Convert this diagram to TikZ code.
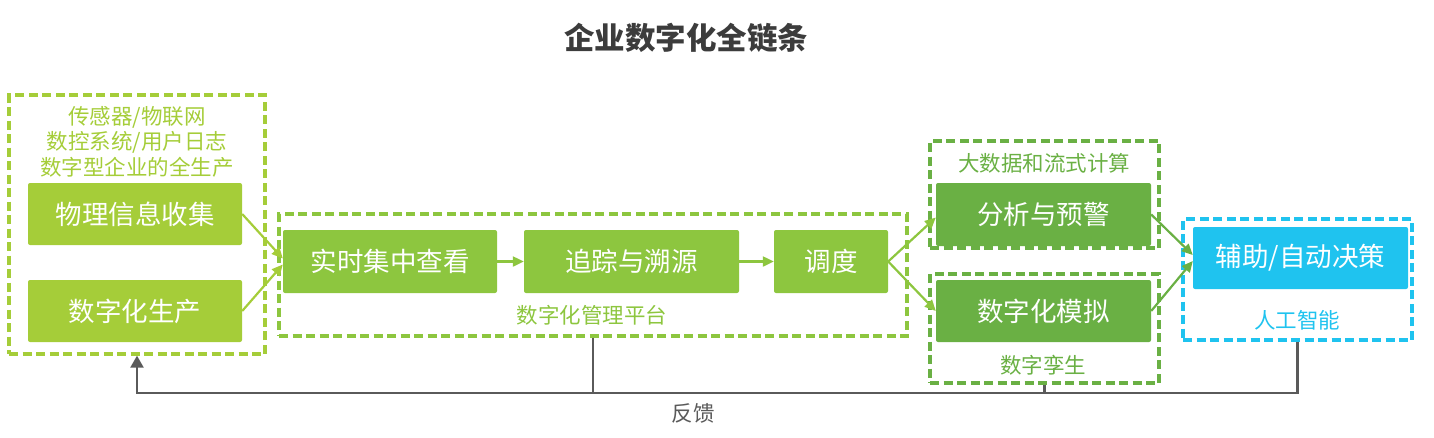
\documentclass[tikz,border=0pt]{standalone}
\usepackage{fontspec}
\setmainfont{Noto Sans CJK SC}
\usetikzlibrary{arrows.meta,fit,calc}
\definecolor{lime}{HTML}{A5CD39}
\definecolor{midg}{HTML}{8DC63F}
\definecolor{darkg}{HTML}{6AB044}
\definecolor{aiblue}{HTML}{1FC3EF}
\definecolor{fbgray}{HTML}{5A5A5A}
\definecolor{titlegray}{HTML}{3C3C3C}
\tikzset{
  box/.style={fill=#1, rounded corners=2pt, inner sep=0pt},
  boxtext/.style={text=white, inner sep=0pt, font=\fontsize{26.5}{31}\selectfont},
  grp/.style={draw=#1, dash pattern=on 9pt off 4.5pt, line width=3.2pt, inner sep=0pt},
  lbl/.style={text=#1, font=\fontsize{21.5}{25}\selectfont, inner sep=0pt},
  conn/.style={draw=#1, line width=2.2pt, -{Triangle[length=11pt,width=10pt]}},
  fbline/.style={draw=fbgray, line width=2.2pt},
}
\begin{document}
\begin{tikzpicture}[x=1pt,y=-1pt]
\useasboundingbox (0,0) rectangle (1434,437);
% title
\node[font=\fontsize{30.5}{36}\selectfont\bfseries, text=titlegray] (title) at (686,38) {企业数字化全链条};
% groups
\node[grp=lime, fit={(9,95) (265,354)}] (lgrp) {};
\node[grp=midg, fit={(279,214) (907,336)}] (mgrp) {};
\node[grp=darkg, fit={(930,141) (1159,248)}] (bgrp) {};
\node[grp=darkg, fit={(930,274) (1159,383)}] (tgrp) {};
\node[grp=aiblue, fit={(1183,219) (1412,340)}] (agrp) {};
% boxes
\node[box=lime, fit={(28,183) (242,245)}] (phys) {};
\node[boxtext] (physT) at (phys.center) {物理信息收集};
\node[box=lime, fit={(28,280) (242,342)}] (prod) {};
\node[boxtext] (prodT) at (prod.center) {数字化生产};
\node[box=midg, fit={(283,230) (497,293)}] (view) {};
\node[boxtext] (viewT) at (view.center) {实时集中查看};
\node[box=midg, fit={(524,230) (739,293)}] (trace) {};
\node[boxtext] (traceT) at (trace.center) {追踪与溯源};
\node[box=midg, fit={(774,230) (888,293)}] (sched) {};
\node[boxtext] (schedT) at (sched.center) {调度};
\node[box=darkg, fit={(936,183) (1151,246)}] (anal) {};
\node[boxtext] (analT) at (anal.center) {分析与预警};
\node[box=darkg, fit={(936,280) (1151,342)}] (sim) {};
\node[boxtext] (simT) at (sim.center) {数字化模拟};
\node[box=aiblue, fit={(1193,227) (1408,289)}] (dec) {};
\node[boxtext] (decT) at (dec.center) {辅助/自动决策};
% labels
\node[lbl=lime] (l1) at (137,117) {传感器/物联网};
\node[lbl=lime] (l2) at (137,142) {数控系统/用户日志};
\node[lbl=lime] (l3) at (137,167) {数字型企业的全生产};
\node[lbl=midg] (lm) at (592,315) {数字化管理平台};
\node[lbl=darkg] (lb) at (1044,163) {大数据和流式计算};
\node[lbl=darkg] (lt) at (1043,365) {数字孪生};
\node[lbl=aiblue] (la) at (1297,320) {人工智能};
% connectors
\draw[conn=lime] (phys.east) -- ([yshift=3pt]view.west);
\draw[conn=lime] (prod.east) -- ([yshift=-3pt]view.west);
\draw[conn=midg] (view.east) -- (trace.west);
\draw[conn=midg] (trace.east) -- (sched.west);
\draw[conn=midg] (sched.east) -- ([yshift=-3pt]anal.west);
\draw[conn=midg] (sched.east) -- (sim.west);
\draw[conn=darkg] (anal.east) -- ([yshift=3pt]dec.west);
\draw[conn=darkg] (sim.east) -- ([yshift=-3pt]dec.west);
% feedback
\coordinate (fbL) at (137,393);
\draw[fbline, -{Triangle[length=12pt,width=13pt]}] (agrp.south) |- (fbL) -- (fbL |- lgrp.south);
\draw[fbline] (mgrp.south) -- (mgrp.south |- fbL);
\draw[fbline] (tgrp.south) -- (tgrp.south |- fbL);
\node[text=fbgray, font=\fontsize{21.5}{25}\selectfont, inner sep=0pt] (fb) at (693,413) {反馈};
\end{tikzpicture}
\end{document}
